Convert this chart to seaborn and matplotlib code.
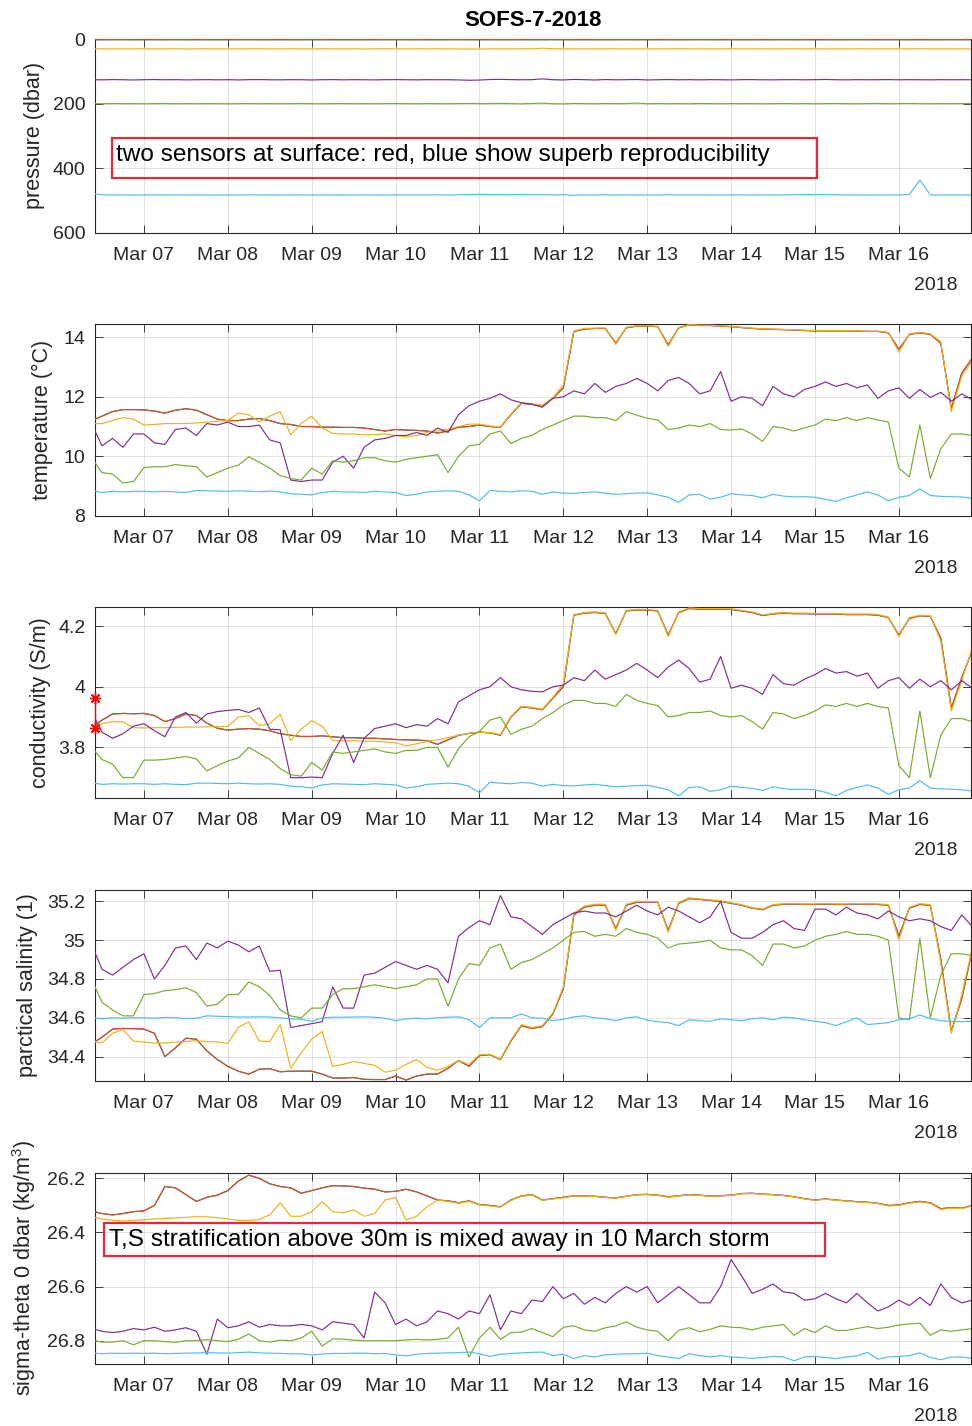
import numpy as np
import pandas as pd
import matplotlib
matplotlib.use("Agg")
import matplotlib.pyplot as plt
import matplotlib.dates as mdates
from matplotlib.patches import Rectangle
import seaborn as sns

# ---------------- data (3-hourly samples, 2018-03-06 09:00 .. 2018-03-16 21:00) ----------------
start_time = "2018-03-06 09:00"
n_samples = 85
sensors = ["surface A", "surface B", "30 m", "125 m", "200 m", "480 m"]
sensor_colors = ["#0072BD", "#D95319", "#EDB120", "#7E2F8E", "#77AC30", "#4DBEEE"]

pres_surface = [2.0, 2.1, 2.0, 1.9, 2.0, 2.1, 2.0, 2.0, 1.9, 2.0,
                2.1, 2.0, 2.0, 2.1, 2.0, 1.9, 2.0, 2.0, 2.1, 2.0,
                2.0, 1.9, 2.0, 2.1, 2.0, 2.0, 2.0, 2.1, 2.0, 1.9,
                2.0, 2.0, 2.1, 2.0, 2.0, 1.9, 2.0, 2.1, 2.0, 2.0,
                2.0, 2.1, 2.0, 2.0, 1.9, 2.0, 2.0, 2.1, 2.0, 2.0,
                2.0, 1.9, 2.0, 2.0, 2.1, 2.0, 2.0, 2.0, 1.9, 2.0,
                2.1, 2.0, 2.0, 2.0, 2.1, 2.0, 1.9, 2.0, 2.0, 2.1,
                2.0, 2.0, 2.0, 1.9, 2.0, 2.1, 2.0, 2.0, 2.0, 2.1,
                2.0, 2.0, 1.9, 2.0, 2.0]
pres_30 = [30.2, 30.5, 30.8, 30.4, 30.6, 30.3, 30.7, 30.5, 30.4, 30.9,
           30.5, 30.3, 30.6, 30.8, 30.4, 30.5, 30.2, 30.6, 30.7, 30.4,
           30.5, 30.8, 30.3, 30.6, 30.5, 30.4, 30.9, 30.5, 30.2, 30.6,
           30.7, 30.4, 30.5, 30.3, 30.6, 30.8, 31.2, 31.0, 30.7, 30.4,
           30.6, 30.3, 30.5, 28.8, 30.2, 30.5, 30.5, 30.9, 30.4, 30.6,
           30.3, 30.7, 30.5, 30.8, 30.4, 30.6, 30.2, 30.5, 30.7, 30.4,
           30.6, 30.3, 30.5, 30.8, 30.4, 30.6, 30.5, 30.3, 30.7, 30.4,
           30.8, 30.5, 30.6, 30.3, 30.5, 30.7, 30.4, 30.6, 30.5, 30.3,
           30.6, 30.4, 30.7, 30.5, 30.6]
pres_125 = [126.0, 126.5, 125.8, 126.2, 126.8, 126.1, 125.7, 126.3, 126.0, 126.6,
            126.2, 125.9, 126.4, 126.1, 126.7, 126.0, 125.8, 126.3, 126.5, 126.0,
            126.2, 126.8, 126.1, 125.9, 126.4, 126.0, 126.3, 126.6, 126.1, 125.8,
            126.2, 126.5, 126.0, 126.3, 126.1, 126.7, 127.8, 127.2, 125.5, 125.0,
            125.8, 126.3, 126.0, 123.5, 126.2, 126.8, 125.2, 126.0, 126.9, 125.6,
            126.4, 126.0, 125.5, 126.8, 126.2, 125.7, 126.3, 126.0, 126.5, 125.9,
            126.2, 126.6, 126.0, 125.8, 126.3, 126.5, 126.1, 125.9, 126.4, 126.0,
            125.4, 126.2, 126.5, 126.0, 126.3, 126.1, 125.8, 126.4, 126.0, 126.2,
            126.5, 126.0, 126.3, 126.1, 126.2]
pres_200 = [200.2, 200.5, 200.0, 200.3, 200.1, 200.6, 200.2, 199.9, 200.4, 200.1,
            200.5, 200.0, 200.3, 200.6, 200.2, 200.0, 200.4, 200.1, 200.5, 200.2,
            199.9, 200.3, 200.6, 200.1, 200.0, 200.4, 200.2, 200.5, 200.1, 199.8,
            200.3, 200.5, 200.0, 200.2, 200.6, 200.1, 199.6, 200.4, 200.0, 199.5,
            200.2, 200.8, 199.7, 198.8, 200.5, 201.0, 199.6, 200.2, 200.6, 199.8,
            200.3, 200.0, 198.6, 200.5, 199.9, 200.4, 200.1, 200.6, 199.8, 200.2,
            200.5, 200.0, 200.3, 200.1, 200.6, 200.2, 199.9, 200.4, 200.0, 200.5,
            200.2, 199.8, 200.3, 200.6, 200.1, 199.9, 200.4, 200.2, 199.6, 200.3,
            200.5, 200.1, 200.3, 200.0, 200.2]
pres_480 = [478.0, 482.5, 483.2, 482.8, 483.5, 483.0, 482.6, 483.4, 482.9, 483.3,
            482.7, 483.1, 483.6, 482.8, 483.2, 482.5, 483.0, 483.4, 482.9, 483.1,
            482.6, 483.3, 482.8, 483.0, 483.5, 482.7, 483.1, 482.9, 483.3, 482.6,
            483.0, 482.8, 483.2, 482.5, 483.1, 482.4, 481.5, 481.0, 482.0, 481.6,
            482.3, 481.8, 482.5, 481.9, 483.0, 482.2, 484.0, 482.6, 483.2, 482.4,
            483.5, 482.8, 483.4, 482.6, 483.0, 482.5, 482.9, 483.1, 482.7, 483.3,
            482.8, 483.0, 482.6, 483.2, 482.9, 483.4, 482.7, 482.5, 481.6, 482.3,
            481.8, 482.6, 483.1, 482.9, 483.5, 483.2, 482.8, 483.0, 481.5, 437.0,
            482.8, 483.5, 483.2, 483.0, 483.1]

temp_surface = [11.2, 11.35, 11.5, 11.57, 11.57, 11.56, 11.52, 11.45, 11.55, 11.6,
                11.55, 11.4, 11.25, 11.2, 11.2, 11.25, 11.27, 11.2, 11.1, 11.07,
                11.0, 11.0, 10.98, 10.98, 10.97, 10.97, 10.95, 10.9, 10.85, 10.9,
                10.88, 10.87, 10.85, 10.78, 10.85, 10.98, 11.0, 11.05, 11.0, 10.98,
                11.4, 11.78, 11.75, 11.7, 11.95, 12.3, 14.2, 14.28, 14.3, 14.3,
                13.8, 14.32, 14.38, 14.38, 14.36, 13.75, 14.32, 14.42, 14.4, 14.4,
                14.38, 14.36, 14.33, 14.3, 14.28, 14.27, 14.26, 14.25, 14.23, 14.22,
                14.22, 14.22, 14.22, 14.21, 14.2, 14.2, 14.15, 13.6, 14.1, 14.15,
                14.1, 13.8, 11.6, 12.8, 13.3]
temp_30 = [11.1, 11.1, 11.2, 11.3, 11.25, 11.05, 11.07, 11.1, 11.1, 11.1,
           11.12, 11.15, 11.18, 11.2, 11.45, 11.4, 11.15, 11.35, 11.5, 10.72,
           11.1, 11.35, 10.95, 10.77, 10.75, 10.75, 10.72, 10.73, 10.75, 10.7,
           10.65, 10.7, 10.8, 10.85, 10.92, 11.0, 11.08, 11.08, 11.02, 10.99,
           11.42, 11.8, 11.76, 11.72, 11.97, 12.4, 14.22, 14.3, 14.31, 14.32,
           13.76, 14.34, 14.39, 14.39, 14.37, 13.7, 14.33, 14.43, 14.41, 14.41,
           14.39, 14.37, 14.34, 14.31, 14.29, 14.28, 14.27, 14.26, 14.24, 14.23,
           14.23, 14.23, 14.23, 14.22, 14.21, 14.21, 14.17, 13.5, 14.12, 14.17,
           14.12, 13.85, 11.5, 12.7, 13.2]
temp_125 = [11.1, 10.35, 10.6, 10.3, 10.75, 10.75, 10.45, 10.4, 10.9, 10.95,
            10.7, 11.1, 11.05, 11.15, 11.0, 11.0, 11.05, 10.55, 10.45, 9.2,
            9.15, 9.2, 9.2, 9.8, 10.0, 9.6, 10.3, 10.55, 10.6, 10.7,
            10.7, 10.8, 10.7, 10.95, 10.8, 11.4, 11.7, 11.85, 11.95, 12.1,
            11.9, 11.8, 11.75, 11.65, 11.95, 12.0, 12.2, 12.1, 12.45, 12.15,
            12.35, 12.45, 12.62, 12.45, 12.2, 12.55, 12.65, 12.45, 12.1, 12.2,
            12.85, 11.85, 12.0, 11.95, 11.7, 12.35, 12.1, 12.0, 12.25, 12.35,
            12.5, 12.35, 12.45, 12.3, 12.4, 11.95, 12.2, 12.3, 11.95, 12.25,
            11.98, 12.15, 11.85, 12.1, 11.9]
temp_200 = [9.95, 9.45, 9.4, 9.1, 9.15, 9.62, 9.65, 9.65, 9.72, 9.68,
            9.65, 9.3, 9.45, 9.6, 9.7, 9.98, 9.8, 9.6, 9.35, 9.25,
            9.2, 9.6, 9.4, 9.85, 9.8, 9.85, 9.95, 9.95, 9.85, 9.8,
            9.9, 9.95, 10.0, 10.05, 9.45, 10.0, 10.35, 10.4, 10.75, 10.85,
            10.43, 10.6, 10.7, 10.9, 11.05, 11.2, 11.35, 11.35, 11.3, 11.3,
            11.2, 11.5, 11.38, 11.28, 11.22, 10.9, 10.95, 11.05, 11.0, 11.1,
            10.9, 10.88, 10.92, 10.75, 10.5, 11.0, 10.95, 10.85, 10.95, 11.05,
            11.25, 11.2, 11.3, 11.2, 11.3, 11.22, 11.15, 9.6, 9.3, 11.05,
            9.25, 10.25, 10.75, 10.75, 10.7]
temp_480 = [8.85, 8.78, 8.82, 8.8, 8.82, 8.82, 8.8, 8.82, 8.8, 8.78,
            8.85, 8.84, 8.83, 8.82, 8.84, 8.82, 8.81, 8.83, 8.8, 8.74,
            8.72, 8.7, 8.78, 8.82, 8.8, 8.8, 8.78, 8.82, 8.8, 8.78,
            8.68, 8.72, 8.8, 8.82, 8.84, 8.82, 8.7, 8.5, 8.85, 8.82,
            8.8, 8.84, 8.82, 8.72, 8.8, 8.76, 8.75, 8.78, 8.8, 8.76,
            8.72, 8.74, 8.76, 8.77, 8.7, 8.62, 8.45, 8.7, 8.72, 8.56,
            8.62, 8.74, 8.7, 8.68, 8.6, 8.72, 8.66, 8.63, 8.64, 8.62,
            8.55, 8.48, 8.6, 8.7, 8.8, 8.7, 8.5, 8.62, 8.68, 8.9,
            8.68, 8.65, 8.64, 8.63, 8.58]

cond_surface = [3.865, 3.89, 3.91, 3.912, 3.911, 3.912, 3.905, 3.885, 3.895, 3.91,
                3.905, 3.88, 3.863, 3.857, 3.86, 3.862, 3.86, 3.855, 3.845, 3.84,
                3.836, 3.836, 3.838, 3.835, 3.832, 3.832, 3.83, 3.83, 3.828, 3.826,
                3.825, 3.824, 3.822, 3.81, 3.825, 3.84, 3.846, 3.85, 3.848, 3.84,
                3.9, 3.934, 3.93, 3.924, 3.962, 4.0, 4.236, 4.243, 4.245, 4.242,
                4.175, 4.25, 4.253, 4.253, 4.25, 4.17, 4.245, 4.258, 4.256, 4.256,
                4.256, 4.255, 4.25, 4.245, 4.235, 4.24, 4.243, 4.241, 4.241, 4.24,
                4.24, 4.24, 4.238, 4.238, 4.238, 4.236, 4.228, 4.17, 4.225, 4.234,
                4.232, 4.16, 3.93, 4.03, 4.12]
cond_30 = [3.87, 3.878, 3.885, 3.884, 3.865, 3.864, 3.865, 3.865, 3.866, 3.867,
           3.867, 3.868, 3.868, 3.869, 3.9, 3.905, 3.872, 3.878, 3.91, 3.822,
           3.86, 3.888, 3.87, 3.822, 3.822, 3.822, 3.82, 3.82, 3.818, 3.815,
           3.805, 3.812, 3.82, 3.825, 3.832, 3.84, 3.846, 3.85, 3.849, 3.842,
           3.902, 3.936, 3.932, 3.926, 3.965, 4.01, 4.238, 4.245, 4.247, 4.244,
           4.172, 4.252, 4.255, 4.255, 4.252, 4.165, 4.247, 4.26, 4.258, 4.258,
           4.258, 4.257, 4.252, 4.247, 4.237, 4.242, 4.245, 4.243, 4.243, 4.242,
           4.242, 4.242, 4.24, 4.24, 4.24, 4.238, 4.23, 4.165, 4.228, 4.236,
           4.234, 4.15, 3.92, 4.02, 4.13]
cond_125 = [3.918, 3.85, 3.83, 3.845, 3.87, 3.878, 3.855, 3.835, 3.9, 3.915,
            3.88, 3.91, 3.918, 3.922, 3.925, 3.915, 3.93, 3.86, 3.858, 3.7,
            3.7, 3.702, 3.7, 3.78, 3.84, 3.75, 3.83, 3.862, 3.87, 3.878,
            3.865, 3.875, 3.87, 3.895, 3.878, 3.95, 3.97, 3.99, 4.0, 4.03,
            4.0, 3.99, 3.985, 3.983, 4.0, 4.005, 4.03, 4.02, 4.055, 4.025,
            4.04, 4.055, 4.077, 4.055, 4.03, 4.065, 4.088, 4.06, 4.015, 4.025,
            4.1, 3.995, 4.005, 3.995, 3.975, 4.04, 4.01, 4.005, 4.025, 4.04,
            4.06, 4.045, 4.05, 4.035, 4.045, 3.995, 4.02, 4.03, 3.995, 4.025,
            4.0, 4.02, 3.99, 4.02, 3.995]
cond_200 = [3.8, 3.76, 3.745, 3.7, 3.7, 3.758, 3.758, 3.76, 3.765, 3.77,
            3.762, 3.722, 3.74, 3.755, 3.765, 3.8, 3.78, 3.76, 3.73, 3.71,
            3.705, 3.75, 3.725, 3.785, 3.78, 3.785, 3.79, 3.795, 3.785, 3.78,
            3.79, 3.79, 3.8, 3.8, 3.735, 3.795, 3.835, 3.852, 3.89, 3.9,
            3.843, 3.86, 3.87, 3.895, 3.915, 3.94, 3.955, 3.955, 3.945, 3.945,
            3.935, 3.975, 3.955, 3.945, 3.938, 3.9, 3.905, 3.915, 3.915, 3.92,
            3.905, 3.9, 3.905, 3.885, 3.86, 3.915, 3.91, 3.895, 3.905, 3.92,
            3.94, 3.935, 3.945, 3.935, 3.945, 3.935, 3.93, 3.74, 3.7, 3.92,
            3.7, 3.84, 3.895, 3.895, 3.885]
cond_480 = [3.683, 3.678, 3.68, 3.679, 3.68, 3.68, 3.678, 3.68, 3.678, 3.677,
            3.682, 3.682, 3.681, 3.68, 3.682, 3.68, 3.679, 3.68, 3.678, 3.672,
            3.67, 3.666, 3.676, 3.68, 3.679, 3.678, 3.677, 3.68, 3.678, 3.676,
            3.666, 3.67, 3.678, 3.68, 3.682, 3.68, 3.672, 3.65, 3.685, 3.682,
            3.68, 3.684, 3.682, 3.672, 3.678, 3.674, 3.673, 3.676, 3.678, 3.674,
            3.67, 3.672, 3.674, 3.675, 3.668, 3.66, 3.64, 3.668, 3.67, 3.655,
            3.66, 3.672, 3.668, 3.665, 3.658, 3.67, 3.664, 3.661, 3.662, 3.66,
            3.652, 3.64, 3.658, 3.668, 3.676, 3.666, 3.645, 3.66, 3.666, 3.69,
            3.666, 3.663, 3.662, 3.66, 3.656]
cond_flag_time = ["2018-03-06 10:00", "2018-03-06 10:00"]
cond_flag_values = [3.962, 3.863]

sal_surface = [34.465, 34.5, 34.542, 34.545, 34.544, 34.542, 34.52, 34.4, 34.445, 34.495,
               34.49, 34.43, 34.385, 34.35, 34.325, 34.31, 34.335, 34.338, 34.322, 34.325,
               34.325, 34.325, 34.31, 34.29, 34.29, 34.292, 34.283, 34.282, 34.282, 34.3,
               34.279, 34.3, 34.31, 34.31, 34.34, 34.38, 34.35, 34.405, 34.41, 34.385,
               34.48, 34.56, 34.545, 34.555, 34.62, 34.75, 35.13, 35.17, 35.18, 35.18,
               35.06, 35.18, 35.195, 35.197, 35.195, 35.05, 35.19, 35.214, 35.21, 35.205,
               35.2, 35.19, 35.18, 35.165, 35.157, 35.18, 35.185, 35.186, 35.184, 35.184,
               35.186, 35.184, 35.184, 35.186, 35.185, 35.184, 35.18, 35.02, 35.165, 35.184,
               35.18, 34.9, 34.53, 34.7, 34.95]
sal_30 = [34.48, 34.47, 34.52, 34.54, 34.48, 34.475, 34.47, 34.47, 34.475, 34.478,
          34.482, 34.478, 34.476, 34.468, 34.55, 34.58, 34.48, 34.478, 34.565, 34.34,
          34.42, 34.49, 34.53, 34.35, 34.36, 34.375, 34.365, 34.355, 34.32, 34.33,
          34.36, 34.385, 34.345, 34.33, 34.35, 34.38, 34.36, 34.41, 34.412, 34.388,
          34.485, 34.565, 34.55, 34.56, 34.625, 34.76, 35.14, 35.175, 35.185, 35.185,
          35.05, 35.185, 35.2, 35.2, 35.198, 35.04, 35.195, 35.218, 35.213, 35.208,
          35.203, 35.193, 35.183, 35.168, 35.16, 35.183, 35.188, 35.189, 35.187, 35.187,
          35.189, 35.187, 35.187, 35.189, 35.188, 35.187, 35.183, 35.0, 35.17, 35.188,
          35.183, 34.88, 34.52, 34.72, 34.96]
sal_125 = [34.98, 34.85, 34.82, 34.86, 34.9, 34.93, 34.8, 34.87, 34.96, 34.97,
           34.9, 34.985, 34.96, 34.995, 34.975, 34.94, 34.97, 34.84, 34.845, 34.55,
           34.56, 34.57, 34.58, 34.76, 34.65, 34.65, 34.82, 34.83, 34.86, 34.89,
           34.87, 34.85, 34.87, 34.85, 34.78, 35.02, 35.065, 35.1, 35.08, 35.23,
           35.12, 35.11, 35.07, 35.03, 35.08, 35.11, 35.14, 35.15, 35.14, 35.14,
           35.12, 35.15, 35.18, 35.15, 35.13, 35.17, 35.15, 35.12, 35.09, 35.12,
           35.2, 35.04, 35.01, 35.01, 35.04, 35.08, 35.1, 35.06, 35.05, 35.16,
           35.16, 35.13, 35.17, 35.14, 35.13, 35.11, 35.15, 35.12, 35.1, 35.11,
           35.1, 35.07, 35.05, 35.13, 35.07]
sal_200 = [34.8, 34.68, 34.64, 34.61, 34.61, 34.72, 34.725, 34.74, 34.745, 34.755,
           34.73, 34.66, 34.67, 34.72, 34.72, 34.785, 34.76, 34.715, 34.64, 34.61,
           34.6, 34.65, 34.65, 34.72, 34.75, 34.75, 34.76, 34.77, 34.76, 34.75,
           34.76, 34.77, 34.8, 34.8, 34.66, 34.8, 34.88, 34.87, 34.96, 34.98,
           34.85, 34.885, 34.9, 34.93, 34.96, 35.0, 35.04, 35.045, 35.02, 35.03,
           35.02, 35.06, 35.04, 35.03, 35.01, 34.96, 34.98, 34.985, 34.99, 35.0,
           34.96, 34.95, 34.95, 34.92, 34.87, 34.98, 34.98, 34.96, 34.97, 35.0,
           35.02, 35.03, 35.045, 35.03, 35.03, 35.02, 35.0, 34.6, 34.59, 35.01,
           34.6, 34.82, 34.93, 34.93, 34.92]
sal_480 = [34.6, 34.595, 34.6, 34.598, 34.6, 34.6, 34.598, 34.602, 34.6, 34.596,
           34.598, 34.61, 34.608, 34.606, 34.604, 34.604, 34.605, 34.604, 34.6, 34.595,
           34.592, 34.582, 34.6, 34.603, 34.603, 34.604, 34.605, 34.603, 34.598, 34.585,
           34.595, 34.598, 34.595, 34.6, 34.603, 34.605, 34.59, 34.55, 34.6, 34.6,
           34.6, 34.62, 34.6, 34.598, 34.585, 34.592, 34.605, 34.61, 34.6, 34.595,
           34.585, 34.6, 34.605, 34.588, 34.58, 34.575, 34.56, 34.59, 34.585, 34.582,
           34.595, 34.59, 34.585, 34.595, 34.6, 34.59, 34.603, 34.6, 34.59, 34.582,
           34.575, 34.56, 34.58, 34.6, 34.565, 34.57, 34.575, 34.59, 34.595, 34.615,
           34.595, 34.585, 34.582, 34.58, 34.582]

sig_surface = [26.32, 26.33, 26.335, 26.33, 26.323, 26.32, 26.3, 26.23, 26.235, 26.26,
               26.285, 26.27, 26.262, 26.245, 26.21, 26.188, 26.2, 26.22, 26.23, 26.235,
               26.255, 26.245, 26.235, 26.227, 26.228, 26.23, 26.236, 26.24, 26.25, 26.248,
               26.24, 26.25, 26.265, 26.28, 26.283, 26.29, 26.283, 26.297, 26.3, 26.305,
               26.28, 26.265, 26.26, 26.28, 26.275, 26.27, 26.264, 26.265, 26.266, 26.27,
               26.272, 26.266, 26.26, 26.259, 26.262, 26.268, 26.264, 26.26, 26.262, 26.265,
               26.264, 26.262, 26.256, 26.255, 26.258, 26.26, 26.263, 26.268, 26.275, 26.28,
               26.276, 26.28, 26.283, 26.286, 26.288, 26.292, 26.3, 26.298, 26.29, 26.285,
               26.29, 26.312, 26.308, 26.31, 26.3]
sig_30 = [26.342, 26.35, 26.355, 26.358, 26.355, 26.353, 26.35, 26.348, 26.346, 26.344,
          26.342, 26.342, 26.345, 26.35, 26.355, 26.355, 26.352, 26.335, 26.29, 26.34,
          26.34, 26.323, 26.286, 26.323, 26.327, 26.317, 26.34, 26.33, 26.28, 26.27,
          26.354, 26.34, 26.305, 26.28, 26.285, 26.292, 26.285, 26.298, 26.302, 26.306,
          26.282, 26.266, 26.262, 26.281, 26.276, 26.272, 26.265, 26.266, 26.267, 26.271,
          26.273, 26.267, 26.261, 26.26, 26.263, 26.27, 26.265, 26.261, 26.263, 26.266,
          26.265, 26.263, 26.257, 26.256, 26.259, 26.261, 26.264, 26.269, 26.276, 26.281,
          26.277, 26.281, 26.284, 26.287, 26.289, 26.293, 26.302, 26.3, 26.292, 26.287,
          26.292, 26.315, 26.31, 26.312, 26.302]
sig_125 = [26.755, 26.765, 26.77, 26.765, 26.755, 26.76, 26.75, 26.765, 26.76, 26.752,
           26.765, 26.85, 26.72, 26.752, 26.745, 26.73, 26.75, 26.74, 26.745, 26.745,
           26.74, 26.745, 26.76, 26.73, 26.735, 26.74, 26.79, 26.62, 26.66, 26.74,
           26.72, 26.745, 26.73, 26.69, 26.7, 26.72, 26.69, 26.7, 26.63, 26.76,
           26.69, 26.7, 26.65, 26.655, 26.6, 26.645, 26.625, 26.665, 26.64, 26.66,
           26.625, 26.6, 26.62, 26.6, 26.66, 26.63, 26.6, 26.63, 26.66, 26.66,
           26.6, 26.5, 26.56, 26.625, 26.61, 26.59, 26.62, 26.625, 26.65, 26.645,
           26.625, 26.645, 26.66, 26.625, 26.66, 26.69, 26.675, 26.65, 26.67, 26.64,
           26.67, 26.59, 26.64, 26.66, 26.65]
sig_200 = [26.798, 26.805, 26.805, 26.8, 26.815, 26.8, 26.8, 26.803, 26.806, 26.8,
           26.8, 26.796, 26.8, 26.803, 26.795, 26.775, 26.8, 26.805, 26.798, 26.8,
           26.79, 26.765, 26.82, 26.793, 26.794, 26.798, 26.8, 26.8, 26.8, 26.8,
           26.797, 26.795, 26.797, 26.795, 26.79, 26.75, 26.86, 26.79, 26.75, 26.795,
           26.77, 26.768, 26.755, 26.77, 26.785, 26.75, 26.745, 26.76, 26.765, 26.752,
           26.745, 26.73, 26.75, 26.76, 26.765, 26.8, 26.762, 26.752, 26.767, 26.758,
           26.745, 26.75, 26.752, 26.76, 26.75, 26.745, 26.74, 26.78, 26.755, 26.77,
           26.745, 26.762, 26.762, 26.755, 26.748, 26.755, 26.75, 26.742, 26.738, 26.735,
           26.78, 26.76, 26.765, 26.76, 26.755]
sig_480 = [26.845, 26.848, 26.846, 26.847, 26.846, 26.847, 26.846, 26.848, 26.847, 26.846,
           26.845, 26.844, 26.845, 26.846, 26.844, 26.842, 26.845, 26.846, 26.847, 26.848,
           26.848, 26.853, 26.849, 26.847, 26.847, 26.846, 26.846, 26.848, 26.847, 26.852,
           26.856, 26.85, 26.847, 26.846, 26.845, 26.844, 26.842, 26.848, 26.858, 26.85,
           26.847, 26.845, 26.843, 26.842, 26.855, 26.85, 26.866, 26.855, 26.86, 26.852,
           26.85, 26.848, 26.848, 26.846, 26.855, 26.86, 26.866, 26.848, 26.855, 26.86,
           26.855, 26.86, 26.862, 26.865, 26.862, 26.858, 26.86, 26.874, 26.86, 26.858,
           26.862, 26.866, 26.86, 26.856, 26.843, 26.868, 26.86, 26.858, 26.855, 26.845,
           26.862, 26.87, 26.86, 26.86, 26.865]

title_text = "SOFS-7-2018"
ylabels = ["pressure (dbar)", "temperature (\u00b0C)", "conductivity (S/m)",
           "parctical salinity (1)", "sigma-theta 0 dbar (kg/m$^{3}$)"]
ytick_values = [[0, 200, 400, 600], [8, 10, 12, 14], [3.8, 4.0, 4.2],
                [34.4, 34.6, 34.8, 35.0, 35.2], [26.2, 26.4, 26.6, 26.8]]
ytick_labels = [["0", "200", "400", "600"], ["8", "10", "12", "14"], ["3.8", "4", "4.2"],
                ["34.4", "34.6", "34.8", "35", "35.2"], ["26.2", "26.4", "26.6", "26.8"]]
note_top = "two sensors at surface: red, blue show superb reproducibility"
note_bottom = "T,S stratification above 30m is mixed away in 10 March storm"

# ---------------- build tables ----------------
times = pd.date_range(start_time, periods=n_samples, freq="3h")
panel_series = [
    [pres_surface, pres_surface, pres_30, pres_125, pres_200, pres_480],
    [temp_surface, temp_surface, temp_30, temp_125, temp_200, temp_480],
    [cond_surface, cond_surface, cond_30, cond_125, cond_200, cond_480],
    [sal_surface, sal_surface, sal_30, sal_125, sal_200, sal_480],
    [sig_surface, sig_surface, sig_30, sig_125, sig_200, sig_480],
]
frames = []
for series in panel_series:
    parts = []
    for name, vals in zip(sensors, series):
        if len(vals) != n_samples:
            raise ValueError(f"{name}: {len(vals)} values")
        parts.append(pd.DataFrame({"time": times, "value": vals, "sensor": name}))
    frames.append(pd.concat(parts, ignore_index=True))

# ---------------- style ----------------
sns.set_style("ticks")
plt.rcParams["font.family"] = ["Liberation Sans", "DejaVu Sans"]
plt.rcParams["mathtext.fontset"] = "custom"
plt.rcParams["mathtext.rm"] = "Liberation Sans"
plt.rcParams["mathtext.it"] = "Liberation Sans"
dark = "#262626"

W, H = 972, 1426
fig = plt.figure(figsize=(W / 100, H / 100), dpi=100)
palette = dict(zip(sensors, sensor_colors))

panels_px = [(39.0, 232.7), (324.0, 515.7), (606.7, 797.7), (889.7, 1080.7), (1172.7, 1364.0)]
ylims = [(600, 0), (8, 14.45), (3.634, 4.264), (34.276, 35.26), (26.886, 26.179)]
label_x_px = [45, 53, 51, 38, 38]
left_px, right_px = 95, 971
xmin = pd.Timestamp("2018-03-06 10:00")
xmax = pd.Timestamp("2018-03-16 20:38")

axes = []
for k, (top, bot) in enumerate(panels_px):
    ax = fig.add_axes([left_px / W, 1 - bot / H, (right_px - left_px) / W, (bot - top) / H])
    sns.lineplot(data=frames[k], x="time", y="value", hue="sensor", hue_order=sensors,
                 palette=palette, estimator=None, sort=False, legend=False,
                 linewidth=0.85, ax=ax)
    for ln in ax.lines:
        ln.set_zorder(3)
    ax.set_xlim(xmin, xmax)
    ax.set_ylim(*ylims[k])
    ax.set_yticks(ytick_values[k])
    ax.set_yticklabels(ytick_labels[k])
    ax.xaxis.set_major_locator(mdates.DayLocator())
    ax.xaxis.set_major_formatter(mdates.DateFormatter("%b %d"))
    ax.set_xlabel("")
    ax.set_ylabel(ylabels[k], fontsize=15.5, color=dark)
    ax.yaxis.set_label_coords((label_x_px[k] - left_px) / (right_px - left_px), 0.5)
    ax.grid(True, color=dark, alpha=0.15, linewidth=0.6)
    ax.tick_params(axis="both", direction="in", top=True, right=True, length=6,
                   width=0.6, colors=dark, labelsize=14)
    ax.tick_params(axis="x", pad=10)
    ax.tick_params(axis="y", pad=7)
    for sp in ax.spines.values():
        sp.set_color(dark)
        sp.set_linewidth(0.8)
        sp.set_visible(True)
    ax.annotate("2018", xy=((935.5 - left_px) / (right_px - left_px), 0), xycoords="axes fraction",
                xytext=(0, -38), textcoords="offset points", ha="center", va="center",
                fontsize=14, color=dark)
    axes.append(ax)

# flagged start values in conductivity
axes[2].plot(pd.to_datetime(cond_flag_time), cond_flag_values, color="#FF0000",
             marker=(8, 2, 0), markersize=8, linewidth=1.0, clip_on=False, zorder=5)

fig.text((left_px + right_px) / 2 / W, 1 - 20 / H, title_text, ha="center", va="center",
         fontsize=16, fontweight="bold", color="black")

# annotation boxes
box_color = "#E6283C"
fig.patches.append(Rectangle((111.5 / W, 1 - 177.7 / H), (817 - 111.5) / W, 40 / H,
                             transform=fig.transFigure, fill=False, edgecolor=box_color,
                             linewidth=1.6, zorder=10))
fig.text(116 / W, 1 - 161 / H, note_top, ha="left", va="baseline", fontsize=17.6, color="black", zorder=11)
fig.patches.append(Rectangle((104.3 / W, 1 - 1256 / H), (825.3 - 104.3) / W, 33.3 / H,
                             transform=fig.transFigure, fill=False, edgecolor=box_color,
                             linewidth=1.6, zorder=10))
fig.text(109 / W, 1 - 1246 / H, note_bottom, ha="left", va="baseline", fontsize=17.6, color="black", zorder=11)

fig.savefig("out.png", dpi=100, facecolor="white")
